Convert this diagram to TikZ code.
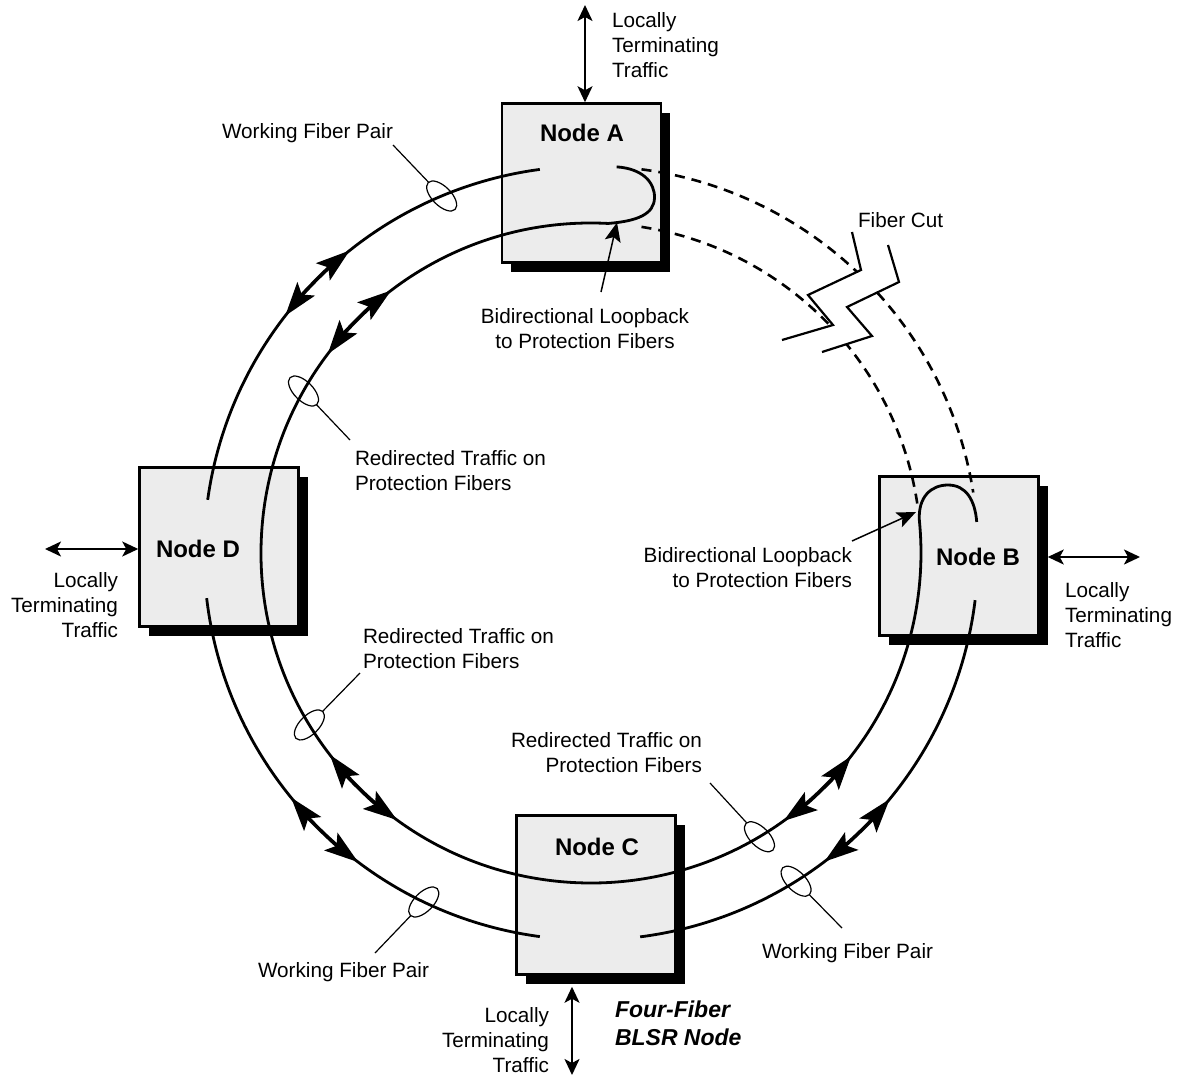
\documentclass[tikz,border=0pt]{standalone}
\usepackage{fontspec}
\setmainfont{Liberation Sans}
\usetikzlibrary{arrows.meta,shadows,shapes.geometric,calc}
\definecolor{boxgray}{RGB}{236,236,236}
\begin{document}
\begin{tikzpicture}[x=1pt,y=-1pt,
  every node/.style={inner sep=0pt, outer sep=0pt},
  txt/.style={font=\fontsize{20.7}{25}\selectfont},
  nodebox/.style={draw, line width=2.5pt, fill=boxgray, outer sep=1.25pt,
    minimum width=159pt, minimum height=159pt,
    general shadow={fill=black, shadow xshift=9pt, shadow yshift=-9pt}},
  nodelabel/.style={font=\fontsize{24}{28}\bfseries\selectfont},
  fiber/.style={line width=2.8pt},
  protect/.style={line width=2.6pt, dash pattern=on 10pt off 7pt},
  ringarrow/.style={line width=2.8pt,
    {Stealth[length=34pt,width=22pt,inset=7pt]}-{Stealth[length=34pt,width=22pt,inset=7pt]}},
  ltt/.style={line width=2pt,
    {Stealth[length=16pt,width=15pt,inset=4pt]}-{Stealth[length=16pt,width=15pt,inset=4pt]}},
  pointer/.style={line width=1.5pt, -{Stealth[length=19pt,width=16pt,inset=4pt]}},
  leader/.style={line width=1.2pt},
  tag/.style={draw, line width=1.2pt, ellipse, minimum width=38pt, minimum height=19pt},
  cut/.style={line width=2.2pt, line join=miter}
]
\fill[white] (0,0) rectangle (1186,1076);
\useasboundingbox (0,0) rectangle (1186,1076);

\coordinate (O) at (591,553);

% ring nodes
\node[nodebox] (A) at (581.5,183) {};
\node[nodebox] (B) at (959,556) {};
\node[nodebox] (C) at (596,895) {};
\node[nodebox] (D) at (219,547) {};

\node[nodelabel] (Alab) at (582,133) {Node A};
\node[nodelabel] (Blab) at (978,557) {Node B};
\node[nodelabel] (Clab) at (597,847) {Node C};
\node[nodelabel] (Dlab) at (198,549) {Node D};

% working fiber pair, outer ring
\draw[fiber] ($(O)+(-97.6:387)$) arc[start angle=-97.6, end angle=-172.1, radius=387];
\draw[fiber] ($(O)+(173.3:387)$) arc[start angle=173.3, end angle=97.6, radius=387];
\draw[fiber] ($(O)+(82.7:387)$) arc[start angle=82.7, end angle=7, radius=387];

% looped-back traffic: loopback at A, protection ring, loopback at B
\draw[fiber] ($(O)+(-86.2:387)$) .. controls (642,168.5) and (655,182) .. (654.5,198)
  .. controls (654,214) and (638,221) .. ($(O)+(-87:330)$)
  arc[start angle=-87, end angle=-365.7, radius=330]
  .. controls (918,497) and (931,485) .. (948,485)
  .. controls (966,485) and (975,500) .. ($(O)+(-4.6:387)$);

% failed span between A and B
\draw[protect] ($(O)+(-82.5:387)$) arc[start angle=-82.5, end angle=-9, radius=387];
\draw[protect] ($(O)+(-81.2:330)$) arc[start angle=-81.2, end angle=-8.4, radius=330];

% fiber cut
\fill[white] (852,232) -- (861,270) -- (808,295) -- (833,325) -- (782,340)
  -- (822,352) -- (872,336) -- (847,307) -- (899,282) -- (888,245) -- cycle;
\draw[cut] (852,232) -- (861,270) -- (808,295) -- (833,325) -- (782,340);
\draw[cut] (888,245) -- (899,282) -- (847,307) -- (872,336) -- (822,352);

% bidirectional traffic marks
\draw[ringarrow] ($(O)+(-128.6:387)$) arc[start angle=-128.6, end angle=-142.2, radius=387];
\draw[ringarrow] ($(O)+(140.8:387)$) arc[start angle=140.8, end angle=127, radius=387];
\draw[ringarrow] ($(O)+(39.5:387)$) arc[start angle=39.5, end angle=52.9, radius=387];
\draw[ringarrow] ($(O)+(-127.3:330)$) arc[start angle=-127.3, end angle=-142.9, radius=330];
\draw[ringarrow] ($(O)+(142.3:330)$) arc[start angle=142.3, end angle=126, radius=330];
\draw[ringarrow] ($(O)+(38:330)$) arc[start angle=38, end angle=54.3, radius=330];

% callout rings and leaders
\node[tag, rotate=-45] (t1) at ($(O)+(-112.7:387)$) {};
\node[tag, rotate=-45] (t2) at ($(O)+(-150.6:330)$) {};
\node[tag, rotate=45]  (t3) at ($(O)+(148.6:330)$) {};
\node[tag, rotate=45]  (t4) at ($(O)+(115.6:387)$) {};
\node[tag, rotate=-45] (t5) at ($(O)+(59.3:330)$) {};
\node[tag, rotate=-45] (t6) at ($(O)+(58:387)$) {};
\coordinate (l1) at (393,145);
\coordinate (l2) at (350,440);
\coordinate (l3) at (360,673);
\coordinate (l4) at (375,953);
\coordinate (l5) at (710,783);
\coordinate (l6) at (842,928);
\draw[leader] (l1) -- (t1);
\draw[leader] (l2) -- (t2);
\draw[leader] (l3) -- (t3);
\draw[leader] (l4) -- (t4);
\draw[leader] (l5) -- (t5);
\draw[leader] (l6) -- (t6);

% locally terminating traffic
\coordinate (Atop) at (585,5);
\coordinate (Dleft) at (45,549);
\coordinate (Bright) at (1140,557);
\coordinate (Cbot) at (572,1075);
\draw[ltt] (Atop) -- (Atop |- A.north);
\draw[ltt] (Dleft) -- (Dleft -| D.west);
\draw[ltt] ($(Bright -| B.east)+(8,0)$) -- (Bright);
\draw[ltt] ($(Cbot |- C.south)+(0,11)$) -- (Cbot);

% loopback pointers
\coordinate (pAtail) at (601,292);
\coordinate (pAtip) at (617,222.5);
\coordinate (pBtail) at (852,541);
\coordinate (pBtip) at (916,512);
\draw[pointer] (pAtail) -- (pAtip);
\draw[pointer] (pBtail) -- (pBtip);

% texts
\node[txt, anchor=north west, align=left] (lttA) at (612,12) {Locally\\Terminating\\Traffic};
\node[txt, anchor=north west] (wfpA) at (222,123) {Working Fiber Pair};
\node[txt, anchor=north west] (cutlab) at (858,212) {Fiber Cut};
\node[txt, anchor=north, align=center] (blA) at (585,308) {Bidirectional Loopback\\to Protection Fibers};
\node[txt, anchor=north west, align=left] (rtD) at (355,450) {Redirected Traffic on\\Protection Fibers};
\node[txt, anchor=north east, align=right] (lttD) at (118,572) {Locally\\Terminating\\Traffic};
\node[txt, anchor=north east, align=right] (blB) at (852,547) {Bidirectional Loopback\\to Protection Fibers};
\node[txt, anchor=north west, align=left] (lttB) at (1065,582) {Locally\\Terminating\\Traffic};
\node[txt, anchor=north west, align=left] (rtL) at (363,628) {Redirected Traffic on\\Protection Fibers};
\node[txt, anchor=north east, align=right] (rtR) at (702,732) {Redirected Traffic on\\Protection Fibers};
\node[txt, anchor=north west] (wfpL) at (258,962) {Working Fiber Pair};
\node[txt, anchor=north west] (wfpR) at (762,943) {Working Fiber Pair};
\node[txt, anchor=north east, align=right] (lttC) at (549,1007) {Locally\\Terminating\\Traffic};
\node[font=\fontsize{23}{28}\bfseries\itshape\selectfont, anchor=north west, align=left] (title) at (615,1001) {Four-Fiber\\BLSR Node};
\end{tikzpicture}
\end{document}
